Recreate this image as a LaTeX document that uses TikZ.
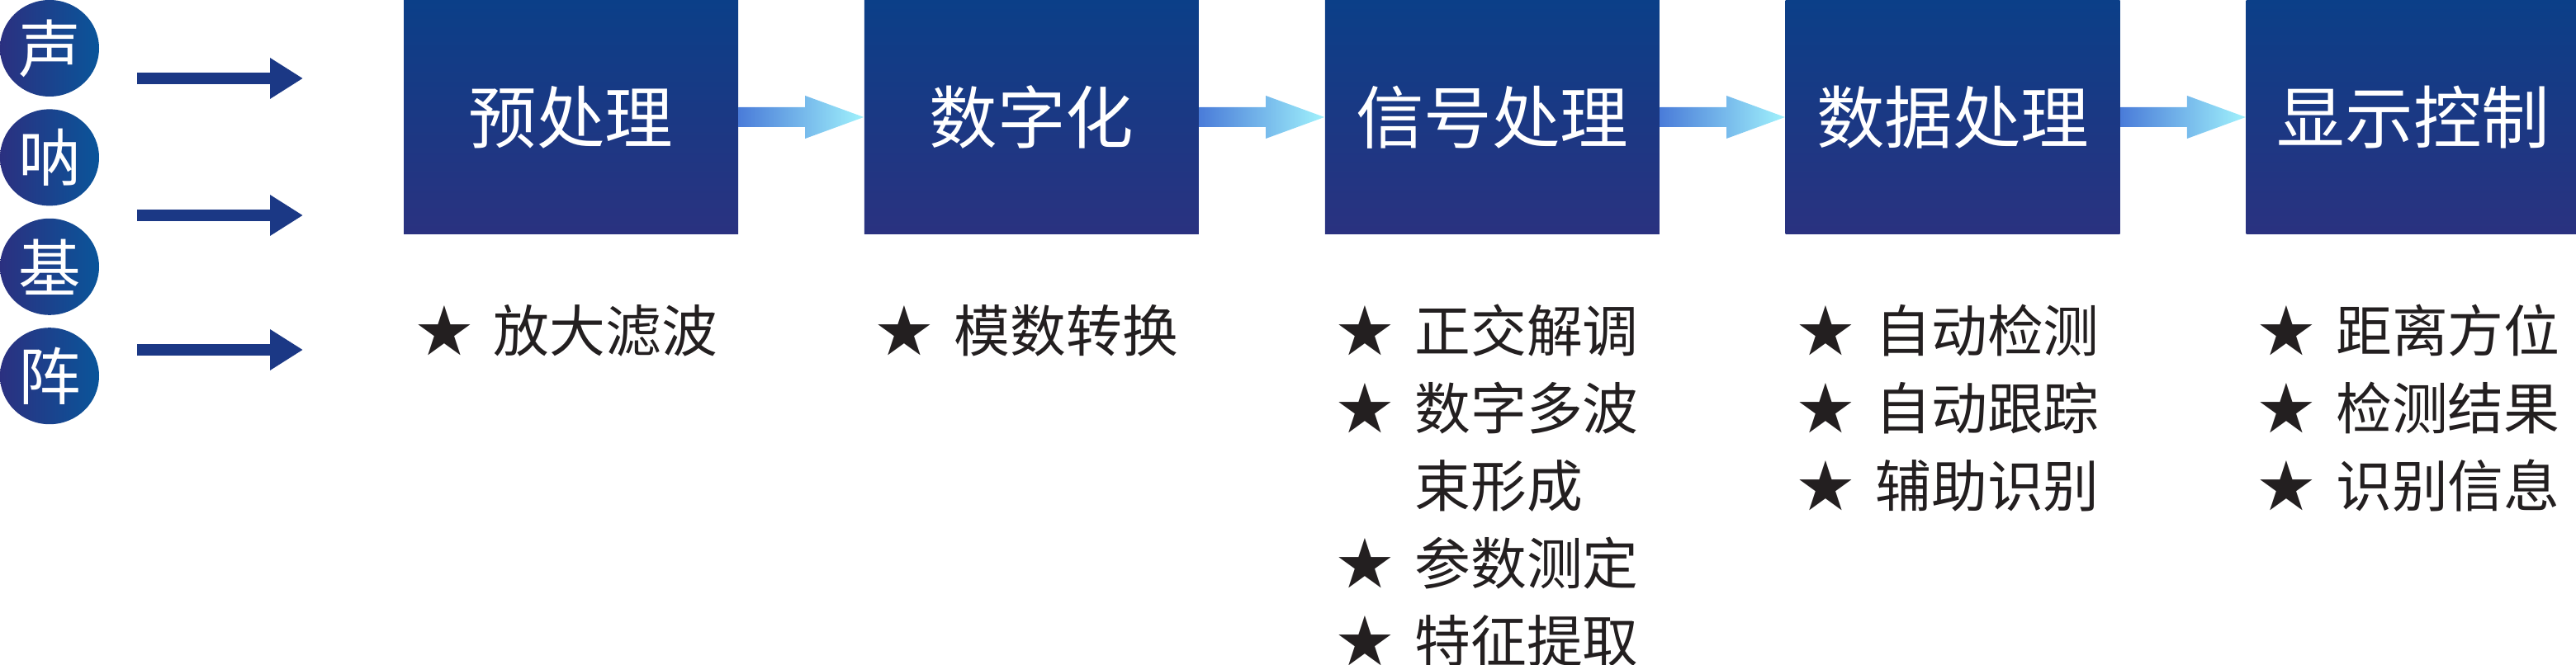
\documentclass[tikz,border=0pt]{standalone}
\usepackage{fontspec}
\newfontfamily\cjk{Noto Sans CJK SC}
\usepackage{tikz}
\usetikzlibrary{positioning, arrows.meta, calc, shapes.geometric}
\definecolor{boxTop}{HTML}{0B3F88}
\definecolor{boxBottom}{HTML}{2A3280}
\definecolor{dotLeft}{HTML}{2B3080}
\definecolor{dotRight}{HTML}{0A559A}
\definecolor{feedNavy}{HTML}{1B3885}
\definecolor{flowLeft}{HTML}{4A7CD9}
\definecolor{flowRight}{HTML}{A0F2FC}
\definecolor{inkBlack}{HTML}{231F20}

\begin{document}
\begin{tikzpicture}[
                node distance=1.515cm,
                stage/.style={rectangle, top color=boxTop, bottom color=boxBottom, minimum width=4.05cm, minimum height=2.84cm, inner sep=0pt, text=white, font=\cjk\fontsize{23.5}{28}\selectfont},
                elem/.style={ellipse, left color=dotLeft, right color=dotRight, minimum width=1.2cm, minimum height=1.17cm, inner sep=0pt, text=white, font=\cjk\fontsize{21.5}{26}\selectfont},
                feed/.style={line width=0.145cm, feedNavy, -{Triangle[length=0.40cm, width=0.47cm]}},
                flow/.style={left color=flowLeft, right color=flowRight},
                listitem/.style={inner sep=0pt, text=inkBlack, font=\cjk\fontsize{19.3}{23}\selectfont}
            ]
                \useasboundingbox (0,0) rectangle (31.2,8.06);

                % Sonar array
                \node[elem] (e1) at (0.60,7.475) {声};
                \node[elem, below=0.14cm of e1] (e2) {呐};
                \node[elem, below=0.14cm of e2] (e3) {基};
                \node[elem, below=0.14cm of e3] (e4) {阵};

                % Input arrows
                \coordinate (f1s) at (1.66,7.11);
                \coordinate (f1e) at (3.67,7.11);
                \coordinate (f2s) at (1.66,5.45);
                \coordinate (f2e) at (3.67,5.45);
                \coordinate (f3s) at (1.66,3.82);
                \coordinate (f3e) at (3.67,3.82);
                \draw[feed] (f1s) -- (f1e);
                \draw[feed] (f2s) -- (f2e);
                \draw[feed] (f3s) -- (f3e);

                % Stages
                \node[stage] (pre) at (6.915,6.64) {预处理};
                \node[stage, right=of pre] (adc) {数字化};
                \node[stage, right=of adc] (sig) {信号处理};
                \node[stage, right=of sig] (dat) {数据处理};
                \node[stage, right=of dat] (dsp) {显示控制};

                % Stage connections
                \shade[flow] ($(pre.east)+(0,0.12)$) -- ($(adc.west)+(-0.71,0.12)$) -- ++(0,0.14) -- (adc.west) -- ++(-0.71,-0.26) -- ++(0,0.14) -- ($(pre.east)+(0,-0.12)$) -- cycle;
                \shade[flow] ($(adc.east)+(0,0.12)$) -- ($(sig.west)+(-0.71,0.12)$) -- ++(0,0.14) -- (sig.west) -- ++(-0.71,-0.26) -- ++(0,0.14) -- ($(adc.east)+(0,-0.12)$) -- cycle;
                \shade[flow] ($(sig.east)+(0,0.12)$) -- ($(dat.west)+(-0.71,0.12)$) -- ++(0,0.14) -- (dat.west) -- ++(-0.71,-0.26) -- ++(0,0.14) -- ($(sig.east)+(0,-0.12)$) -- cycle;
                \shade[flow] ($(dat.east)+(0,0.12)$) -- ($(dsp.west)+(-0.71,0.12)$) -- ++(0,0.14) -- (dsp.west) -- ++(-0.71,-0.26) -- ++(0,0.14) -- ($(dat.east)+(0,-0.12)$) -- cycle;

                % Stage details
                \node[listitem, anchor=west] (pre1) at ($(pre.south west)+(0.15,-1.16)$) {★\hspace{0.38em}放大滤波};

                \node[listitem, anchor=west] (adc1) at ($(adc.south west)+(0.15,-1.16)$) {★\hspace{0.38em}模数转换};

                \node[listitem, anchor=west] (sig1) at ($(sig.south west)+(0.15,-1.16)$) {★\hspace{0.38em}正交解调};
                \node[listitem, below=0.94cm of sig1.west, anchor=west] (sig2) {★\hspace{0.38em}数字多波};
                \node[listitem, below=0.94cm of sig2.west, anchor=west] (sig3) {\hphantom{★}\hspace{0.38em}束形成};
                \node[listitem, below=0.94cm of sig3.west, anchor=west] (sig4) {★\hspace{0.38em}参数测定};
                \node[listitem, below=0.94cm of sig4.west, anchor=west] (sig5) {★\hspace{0.38em}特征提取};

                \node[listitem, anchor=west] (dat1) at ($(dat.south west)+(0.15,-1.16)$) {★\hspace{0.38em}自动检测};
                \node[listitem, below=0.94cm of dat1.west, anchor=west] (dat2) {★\hspace{0.38em}自动跟踪};
                \node[listitem, below=0.94cm of dat2.west, anchor=west] (dat3) {★\hspace{0.38em}辅助识别};

                \node[listitem, anchor=west] (dsp1) at ($(dsp.south west)+(0.15,-1.16)$) {★\hspace{0.38em}距离方位};
                \node[listitem, below=0.94cm of dsp1.west, anchor=west] (dsp2) {★\hspace{0.38em}检测结果};
                \node[listitem, below=0.94cm of dsp2.west, anchor=west] (dsp3) {★\hspace{0.38em}识别信息};
            \end{tikzpicture}
\end{document}
